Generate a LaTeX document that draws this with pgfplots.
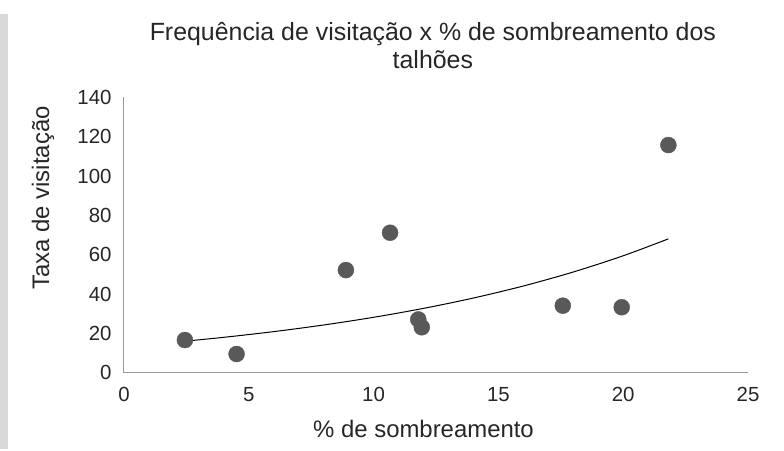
\documentclass[border=0pt]{standalone}
\usepackage{pgfplots}
\pgfplotsset{compat=1.18}
\usepackage{fontspec}
\setmainfont{Liberation Sans}
\definecolor{ptgray}{HTML}{595959}
\definecolor{axgray}{HTML}{999999}
\definecolor{stripgray}{HTML}{D9D9D9}
\begin{document}
\begin{tikzpicture}[x=1bp,y=1bp]
\useasboundingbox (-124,-78.3) rectangle (660,372.7);
\fill[stripgray] (-124,-76.3) rectangle (-116,358.7);
\begin{axis}[
  at={(0,0)}, anchor=south west,
  scale only axis,
  width=624bp, height=275.2bp,
  xmin=0, xmax=25, ymin=0, ymax=140,
  xtick={0,5,...,25}, ytick={0,20,...,140},
  axis x line*=bottom, axis y line*=left,
  axis line style={axgray, line width=1bp, -},
  major tick length=0pt,
  tick style={draw=none},
  /pgf/number format/assume math mode=true,
  tick label style={font=\fontsize{20.5}{24}\selectfont, text=black!85},
  xticklabel style={yshift=-11bp},
  yticklabel style={xshift=-9bp},
  xlabel={\% de sombreamento},
  ylabel={Taxa de visitação},
  label style={font=\fontsize{24}{29}\selectfont, text=black!85},
  xlabel style={at={(axis description cs:0.48,-0.205)}, anchor=center},
  ylabel style={at={(axis description cs:-0.13,0.635)}, anchor=center, rotate=0},
  title={Frequência de visitação x \% de sombreamento dos\\talhões},
  title style={at={(axis description cs:0.495,1.263)}, anchor=north, align=center, font=\fontsize{25}{28}\selectfont, text=black!85},
  clip=false,
]
\addplot[only marks, mark=*, mark size=8bp, mark options={draw=ptgray, fill=ptgray}] coordinates {
  (2.44,16.6) (4.51,9.5) (8.89,52.2) (10.66,71.2) (11.79,27.1)
  (11.93,23.1) (17.58,34.1) (19.94,33.3) (21.81,115.8)
};
\addplot[black, line width=1bp, smooth, no marks] coordinates {
  (2.44,16.02) (4,18.0) (6,20.9) (8,24.27) (10,28.18) (12,32.72)
  (14,37.99) (16,44.11) (18,51.22) (20,59.48) (21.81,68.08)
};
\end{axis}
\end{tikzpicture}
\end{document}
